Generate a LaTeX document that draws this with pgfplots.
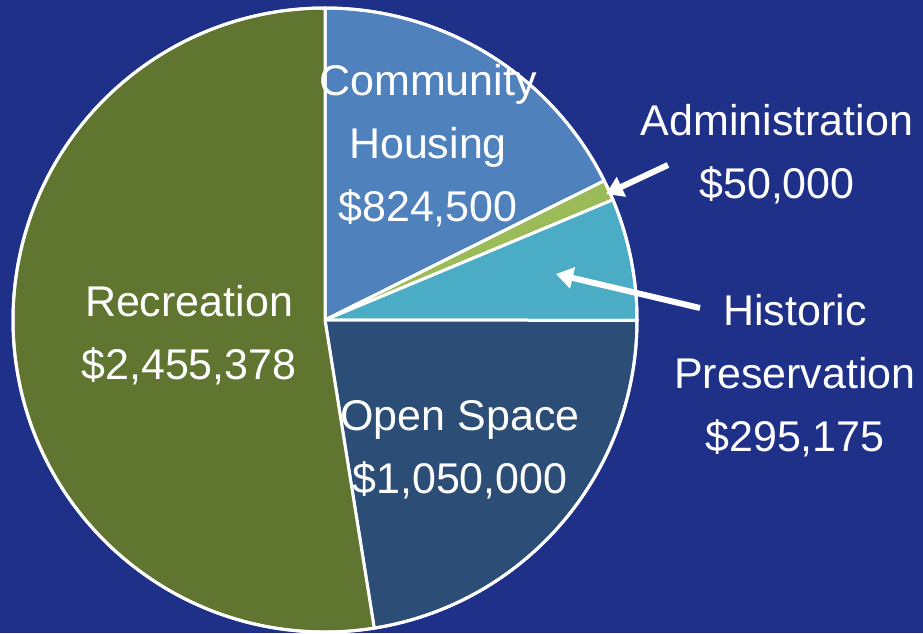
\documentclass[border=0pt]{standalone}
\usepackage{pgfplots}
\pgfplotsset{compat=1.18}
\usepackage{pgfplotstable}
\usepackage{fontspec}
\setmainfont{Liberation Sans}
\usetikzlibrary{arrows.meta}

\definecolor{bgblue}{RGB}{31,48,137}
\definecolor{pie0}{RGB}{79,129,189}  % community housing
\definecolor{pie1}{RGB}{155,187,89}  % administration
\definecolor{pie2}{RGB}{75,172,198}  % historic preservation
\definecolor{pie3}{RGB}{44,77,117}   % open space
\definecolor{pie4}{RGB}{95,117,48}   % recreation

\pgfplotstableread{
value
824500
50000
295175
1050000
2455378
}\piedata

% total and wedge angles (clockwise from 12 o'clock)
\def\pietotal{0}
\pgfplotsforeachungrouped \i in {0,...,4}{%
  \pgfplotstablegetelem{\i}{value}\of\piedata
  \xdef\pietotal{\fpeval{\pietotal+\pgfplotsretval}}}
\def\piecur{90}
\pgfplotsforeachungrouped \i in {0,...,4}{%
  \pgfplotstablegetelem{\i}{value}\of\piedata
  \expandafter\xdef\csname pieA\i\endcsname{\piecur}%
  \xdef\piecur{\fpeval{\piecur-360*\pgfplotsretval/\pietotal}}%
  \expandafter\xdef\csname pieB\i\endcsname{\piecur}}

\tikzset{
  lbl/.style={text=white, align=center, font=\fontsize{43}{63}\selectfont},
  arr/.style={white, line width=6pt, -{Triangle[length=17pt,width=21pt]}},
}

\begin{document}
\begin{tikzpicture}
\begin{axis}[
    scale only axis,
    width=923pt, height=633pt,
    xmin=0, xmax=923, ymin=0, ymax=633,
    hide axis,
    clip=false,
]
\fill[bgblue] (axis cs:0,0) rectangle (axis cs:923,633);
\pgfplotsinvokeforeach{0,...,4}{
  \filldraw[fill=pie#1, draw=white, line width=3pt, line join=round]
    (axis cs:325,313) -- ++(\csname pieA#1\endcsname:312pt)
    arc[start angle=\csname pieA#1\endcsname, end angle=\csname pieB#1\endcsname, radius=312pt] -- cycle;
}
\draw[white, line width=3pt] (axis cs:325,313) circle[radius=312pt];

\node[lbl] at (axis cs:428,487) {Community\\Housing\\\$824,500};
\node[lbl] at (axis cs:777,479) {Administration\\\$50,000};
\node[lbl] at (axis cs:795,257) {Historic\\Preservation\\\$295,175};
\node[lbl] at (axis cs:189,298) {Recreation\\\$2,455,378};
\node[lbl] at (axis cs:460,183) {Open Space\\\$1,050,000};

\draw[arr] (axis cs:668,468) -- (axis cs:606,439);
\draw[arr] (axis cs:700,325) -- (axis cs:556,359);
\end{axis}
\pgfresetboundingbox
\useasboundingbox (0,0) rectangle (923pt,633pt);
\end{tikzpicture}
\end{document}
